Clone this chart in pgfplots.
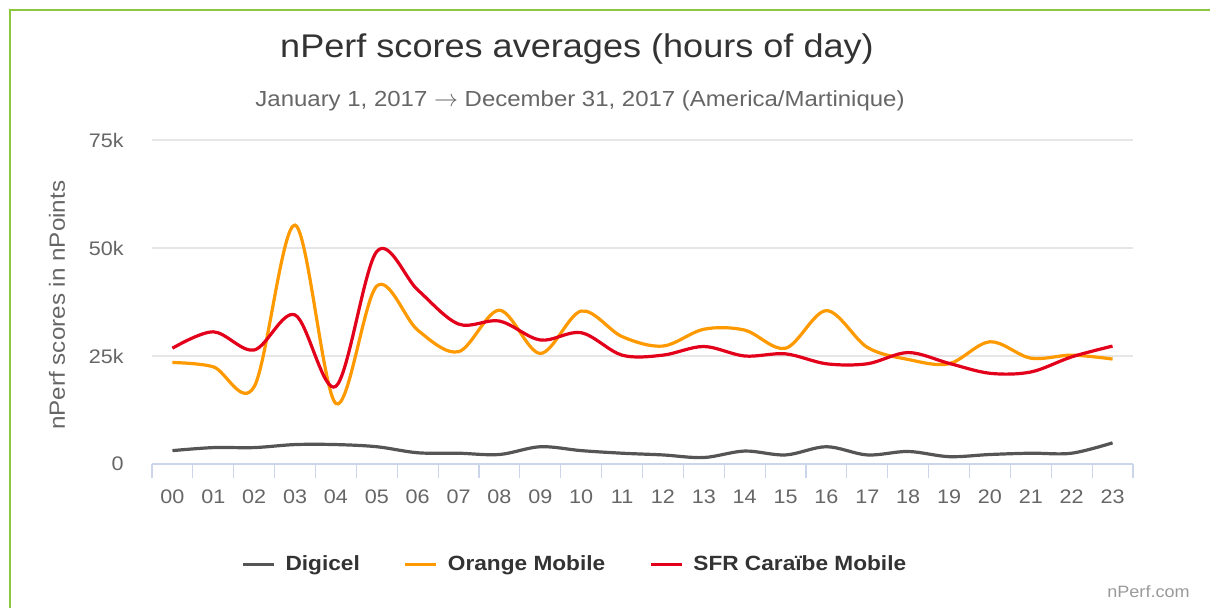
\documentclass[border=0pt]{standalone}
\usepackage{fontspec}
\setmainfont{Liberation Sans}[FakeStretch=1.1]
\usepackage{pgfplots}
\pgfplotsset{compat=1.18}
\definecolor{cDig}{HTML}{555555}
\definecolor{cOra}{HTML}{FF9900}
\definecolor{cSfr}{HTML}{E2001A}
\definecolor{cGrid}{HTML}{E6E6E6}
\definecolor{cAxis}{HTML}{CCD6EB}
\definecolor{cTitle}{HTML}{333333}
\definecolor{cSub}{HTML}{666666}
\definecolor{cBorder}{HTML}{8DC63F}
\newcommand{\fs}[1]{\fontsize{#1}{#1}\selectfont}
\begin{document}
\begin{tikzpicture}
\useasboundingbox ({(0-152)*0.5pt},{(464-607)*0.5pt}) rectangle ({(1210-152)*0.5pt},{(464-0)*0.5pt});
\draw[cBorder, line width=1.2pt] ({(10-152)*0.5pt},{(464-620)*0.5pt}) -- ({(10-152)*0.5pt},{(464-10)*0.5pt}) -- ({(1230-152)*0.5pt},{(464-10)*0.5pt});
\node[anchor=base, text=cTitle, inner sep=0pt] at ({(577-152)*0.5pt},{(464-57)*0.5pt}) {\fs{16.4pt}nPerf scores averages (hours of day)};
\node[anchor=base, text=cSub, inner sep=0pt] at ({(580-152)*0.5pt},{(464-106)*0.5pt}) {\fs{10.9pt}January 1, 2017 {\fontsize{11.5pt}{11.5pt}\selectfont$\rightarrow$} December 31, 2017 (America/Martinique)};
\node[anchor=base east, text=gray!80, inner sep=0pt] at ({(1190-152)*0.5pt},{(464-597)*0.5pt}) {\fs{8.2pt}nPerf.com};
\begin{axis}[
  scale only axis,
  width=490.5pt, height=162pt,
  xmin=-0.5, xmax=23.5, ymin=0, ymax=75,
  axis line style={draw=none},
  axis x line*=bottom,
  x axis line style={draw=cAxis, line width=0.6pt},
  xtick={-0.5,0.5,...,23.5},
  x tick label as interval,
  xticklabels={00,01,02,03,04,05,06,07,08,09,10,11,12,13,14,15,16,17,18,19,20,21,22,23},
  tick align=outside,
  x tick style={draw=cAxis, line width=0.6pt},
  major tick length=7pt,
  xtick pos=bottom,
  ytick={0,25,50,75},
  yticklabels={0,25k,50k,75k},
  y tick style={draw=none},
  ymajorgrids,
  grid style={cGrid, line width=0.6pt},
  /pgf/number format/assume math mode=true,
  ticklabel style={font=\fs{9.8pt}, text=cSub},
  yticklabel style={anchor=east, inner sep=0pt, xshift=-7pt},
  xticklabel style={anchor=base, inner sep=0pt, yshift=-12.5pt},
  ylabel={nPerf scores in nPoints},
  ylabel style={at={(axis description cs:-0.0968,0.49)}, anchor=center, font=\fs{11pt}, text=cSub},
  legend columns=3,
  legend style={at={(axis description cs:0.432,-0.31)}, anchor=center, draw=none, font=\bfseries\fs{10.3pt}, text=cTitle,
    /tikz/every even column/.append style={column sep=20pt}},
  legend cell align=left,
  legend image code/.code={\draw[#1, line width=1.5pt] (0pt,0pt) -- (15.5pt,0pt); \path (18.5pt,0pt);},
  every axis plot/.append style={line width=1.6pt, smooth, tension=0.55, mark=none},
]
\addplot[cDig] coordinates {(0,3.1)(1,3.8)(2,3.8)(3,4.5)(4,4.5)(5,4.0)(6,2.6)(7,2.5)(8,2.2)(9,4.0)(10,3.1)(11,2.5)(12,2.1)(13,1.5)(14,3.0)(15,2.1)(16,4.0)(17,2.1)(18,2.9)(19,1.7)(20,2.2)(21,2.5)(22,2.5)(23,4.9)};
\addlegendentry{Digicel}
\addplot[cOra] coordinates {(0,23.5)(1,22.5)(2,17.9)(3,55.3)(4,14.0)(5,41.2)(6,31.0)(7,26.0)(8,35.6)(9,25.6)(10,35.4)(11,29.5)(12,27.3)(13,31.2)(14,31.0)(15,26.8)(16,35.5)(17,27.0)(18,24.2)(19,23.2)(20,28.3)(21,24.5)(22,25.2)(23,24.3)};
\addlegendentry{Orange Mobile}
\addplot[cSfr] coordinates {(0,26.8)(1,30.6)(2,26.4)(3,34.5)(4,18.0)(5,49.2)(6,40.3)(7,32.4)(8,33.1)(9,28.7)(10,30.4)(11,25.2)(12,25.2)(13,27.2)(14,25.0)(15,25.5)(16,23.2)(17,23.2)(18,25.8)(19,23.3)(20,21.0)(21,21.3)(22,24.8)(23,27.3)};
\addlegendentry{SFR Caraïbe Mobile}
\end{axis}
\end{tikzpicture}
\end{document}
